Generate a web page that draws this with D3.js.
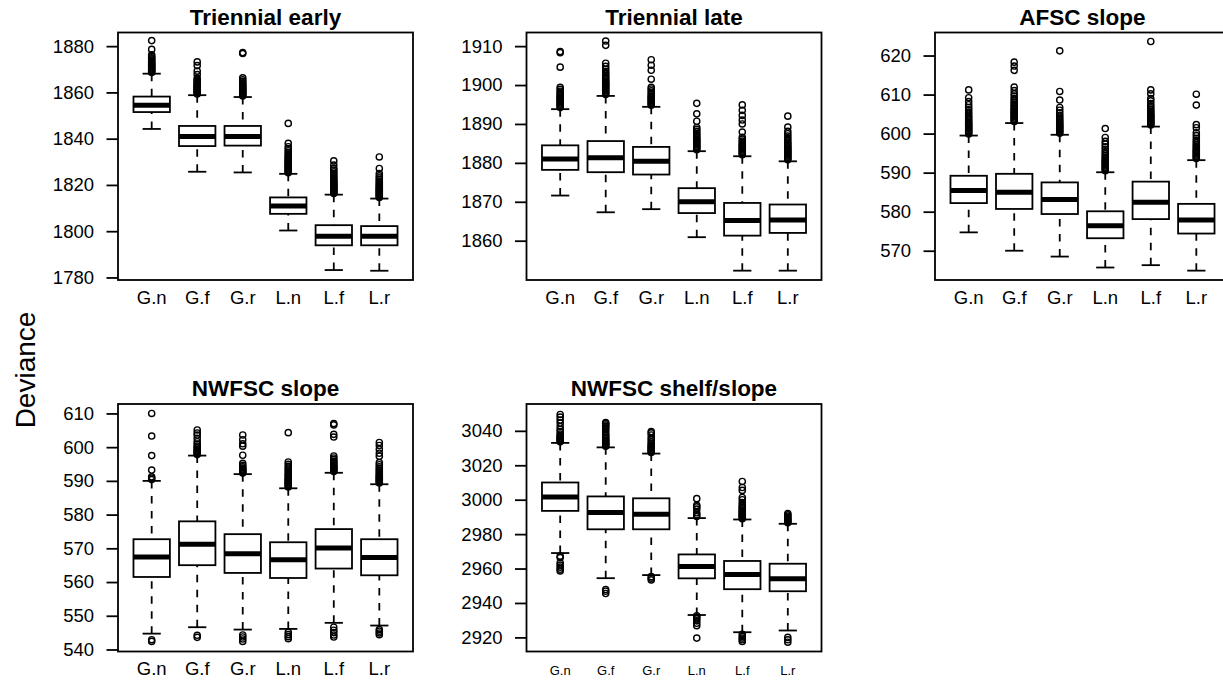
<!DOCTYPE html>
<html>
<head>
<meta charset="utf-8">
<script src="https://cdn.jsdelivr.net/npm/d3@7/dist/d3.min.js"></script>
<style>
  html, body { margin: 0; padding: 0; background: #fff; }
  svg { display: block; font-family: "Liberation Sans", Arial, sans-serif; }
</style>
</head>
<body>
<svg id="chart" width="1223" height="680"></svg>
<script>
// ---- data -------------------------------------------------------------
const groups = ["G.n", "G.f", "G.r", "L.n", "L.f", "L.r"];
const panelTitles = ["Triennial early", "Triennial late", "AFSC slope", "NWFSC slope", "NWFSC shelf/slope"];
const yAxisLabel = "Deviance";

const yTicks = [
  [1780, 1800, 1820, 1840, 1860, 1880],
  [1860, 1870, 1880, 1890, 1900, 1910],
  [570, 580, 590, 600, 610, 620],
  [540, 550, 560, 570, 580, 590, 600, 610],
  [2920, 2940, 2960, 2980, 3000, 3020, 3040]
];
const yLimits = [
  [1778.9, 1885.9],
  [1849.9, 1913.5],
  [562.5, 625.9],
  [539.4, 612.8],
  [2911.8, 3055.6]
];

// five-number summaries per group: [lower whisker, Q1, median, Q3, upper whisker]
const statsTriEarly = [
  [1844.2, 1851.5, 1854.5, 1858.2, 1868.1],
  [1825.7, 1836.8, 1840.9, 1845.5, 1858.8],
  [1825.4, 1837.0, 1840.9, 1845.5, 1858.0],
  [1800.3, 1807.5, 1810.9, 1814.6, 1824.8],
  [1783.2, 1793.9, 1797.8, 1802.6, 1815.8],
  [1782.9, 1793.9, 1797.8, 1802.2, 1814.1]
];
const statsTriLate = [
  [1871.6, 1878.2, 1881.0, 1884.5, 1893.8],
  [1867.3, 1877.6, 1881.3, 1885.6, 1897.2],
  [1868.1, 1877.0, 1880.4, 1884.1, 1894.4],
  [1860.9, 1867.1, 1870.0, 1873.5, 1883.0],
  [1852.3, 1861.3, 1865.2, 1869.7, 1881.7],
  [1852.3, 1862.0, 1865.3, 1869.3, 1880.4]
];
const statsAfsc = [
  [574.7, 582.2, 585.4, 589.2, 599.5],
  [570.0, 580.7, 585.0, 589.7, 602.7],
  [568.5, 579.4, 583.1, 587.5, 599.7],
  [565.7, 573.2, 576.4, 580.1, 590.1],
  [566.3, 578.1, 582.4, 587.7, 601.8],
  [564.9, 574.4, 577.9, 582.0, 593.2]
];
const statsNwSlope = [
  [544.7, 561.5, 567.4, 572.7, 590.0],
  [546.6, 565.0, 571.2, 578.0, 597.5],
  [545.9, 562.7, 568.4, 574.2, 592.0],
  [546.1, 561.2, 566.6, 571.8, 587.8],
  [547.9, 564.0, 570.1, 575.7, 592.4],
  [547.1, 562.0, 567.3, 572.7, 589.0]
];
const statsNwShelf = [
  [2969.0, 2993.5, 3001.5, 3010.0, 3033.0],
  [2954.4, 2982.8, 2992.5, 3001.9, 3030.4],
  [2956.2, 2982.8, 2991.5, 3000.8, 3026.8],
  [2933.0, 2954.3, 2961.2, 2968.2, 2989.3],
  [2923.0, 2948.0, 2956.5, 2964.4, 2988.5],
  [2924.0, 2946.8, 2954.0, 2962.8, 2986.0]
];

// points beyond the whiskers
const outTriEarly = [
  [1868.6,1869.0,1869.4,1869.8,1870.2,1870.6,1871.0,1871.4,1871.8,1872.2,1872.6,1873.0,1873.5,1874.0,1874.5,1875.0,1875.6,1876.3,1878.6,1882.4],
  [1859.3,1859.7,1860.1,1860.5,1860.9,1861.3,1861.7,1862.1,1862.5,1862.9,1863.3,1863.8,1864.3,1864.8,1865.4,1866.1,1867.7,1869.2,1871.6,1873.2],
  [1858.5,1858.9,1859.3,1859.7,1860.1,1860.5,1860.9,1861.3,1861.7,1862.1,1862.6,1863.1,1863.6,1864.2,1864.8,1865.5,1866.3,1876.8,1877.2],
  [1825.3,1825.7,1826.1,1826.5,1826.9,1827.3,1827.7,1828.1,1828.5,1828.9,1829.3,1829.7,1830.1,1830.6,1831.1,1831.6,1832.1,1832.7,1833.3,1834.0,1834.8,1835.6,1836.5,1838.0,1846.6],
  [1816.3,1816.7,1817.1,1817.5,1817.9,1818.3,1818.7,1819.1,1819.5,1819.9,1820.3,1820.7,1821.2,1821.7,1822.2,1822.8,1823.4,1824.1,1824.8,1825.6,1826.4,1827.2,1828.6,1830.4],
  [1814.6,1815.0,1815.4,1815.8,1816.2,1816.6,1817.0,1817.4,1817.8,1818.2,1818.6,1819.0,1819.5,1820.0,1820.5,1821.1,1821.7,1822.4,1823.1,1823.9,1824.9,1827.1,1832.1]
];
const outTriLate = [
  [1894.2,1894.5,1894.8,1895.1,1895.4,1895.7,1896.0,1896.3,1896.6,1896.9,1897.2,1897.6,1898.0,1898.4,1898.9,1899.4,1904.6,1908.3,1908.6],
  [1897.6,1897.9,1898.2,1898.5,1898.8,1899.1,1899.4,1899.7,1900.0,1900.3,1900.6,1900.9,1901.3,1901.7,1902.1,1902.5,1903.0,1903.5,1904.1,1904.8,1905.6,1910.2,1911.3],
  [1894.8,1895.1,1895.4,1895.7,1896.0,1896.3,1896.6,1896.9,1897.2,1897.6,1898.0,1898.5,1899.0,1899.4,1901.5,1903.8,1905.1,1906.5],
  [1883.4,1883.7,1884.0,1884.3,1884.6,1884.9,1885.2,1885.5,1885.8,1886.1,1886.4,1886.8,1887.2,1887.6,1888.1,1888.6,1889.1,1890.7,1892.6,1895.3],
  [1882.1,1882.4,1882.7,1883.0,1883.3,1883.6,1883.9,1884.2,1884.5,1884.8,1885.2,1885.6,1886.1,1886.6,1887.9,1890.0,1891.0,1892.2,1893.5,1894.9],
  [1880.8,1881.1,1881.4,1881.7,1882.0,1882.3,1882.6,1882.9,1883.2,1883.5,1883.8,1884.1,1884.5,1884.9,1885.3,1885.8,1886.3,1886.9,1887.5,1888.1,1889.2,1892.0]
];
const outAfsc = [
  [599.9,600.2,600.5,600.8,601.1,601.4,601.7,602.0,602.3,602.6,602.9,603.3,603.7,604.1,604.5,605.0,605.5,606.1,606.7,607.4,608.2,609.2,611.2],
  [603.1,603.4,603.7,604.0,604.3,604.6,604.9,605.2,605.5,605.8,606.1,606.4,606.8,607.2,607.6,608.0,608.5,609.0,609.6,610.2,611.0,611.9,616.2,617.3,618.3],
  [600.1,600.4,600.7,601.0,601.3,601.6,601.9,602.2,602.5,602.9,603.3,603.7,604.2,604.7,605.3,606.0,606.7,608.6,610.8,621.2],
  [590.5,590.8,591.1,591.4,591.7,592.0,592.3,592.6,592.9,593.2,593.6,594.0,594.4,594.9,595.4,596.0,596.6,597.3,598.0,599.0,601.3],
  [602.2,602.5,602.8,603.1,603.4,603.7,604.0,604.3,604.6,604.9,605.3,605.7,606.1,606.6,607.1,607.7,608.4,609.0,610.2,611.2,623.6],
  [593.6,593.9,594.2,594.5,594.8,595.1,595.4,595.7,596.0,596.4,596.8,597.2,597.7,598.2,598.8,599.5,600.2,601.5,602.3,607.3,610.1]
];
const outNwSlope = [
  [542.4,542.9,590.4,590.8,591.2,593.2,597.5,603.3,610.0],
  [543.6,544.2,597.8,598.1,598.4,598.7,599.0,599.4,599.8,600.3,600.9,601.6,602.6,603.6,604.2,605.1],
  [542.4,543.1,543.7,544.3,592.3,592.6,592.9,593.2,593.5,593.8,594.2,594.6,595.2,597.6,600.3,601.0,602.2,603.6],
  [543.2,543.8,544.4,545.1,588.2,588.5,588.8,589.1,589.4,589.7,590.0,590.3,590.6,591.0,591.4,591.8,592.2,592.7,593.2,593.7,594.3,594.9,595.6,604.3],
  [543.7,544.3,545.0,545.7,546.6,592.8,593.1,593.4,593.7,594.0,594.3,594.6,595.0,595.4,595.8,596.3,596.8,597.4,603.0,603.8,606.6,607.0],
  [544.4,544.9,545.4,545.9,589.4,589.7,590.0,590.3,590.6,590.9,591.2,591.5,591.9,592.3,592.7,593.2,593.7,594.2,594.8,595.4,597.3,598.2,599.4,600.5,601.4]
];
const outNwShelf = [
  [2958.6,2959.6,2960.8,2962.0,2963.4,2966.4,2967.2,3033.6,3034.2,3034.8,3035.4,3036.0,3036.6,3037.3,3038.2,3039.6,3040.8,3042.5,3044.5,3046.3,3048.0,3049.5],
  [2945.5,2946.8,2947.8,3031.0,3031.6,3032.2,3032.8,3033.4,3034.0,3034.7,3035.4,3036.2,3037.1,3038.0,3039.4,3040.6,3041.8,3042.6,3043.4,3044.2,3044.8],
  [2953.4,2954.4,2955.3,3027.4,3028.0,3028.6,3029.2,3029.8,3030.4,3031.0,3031.8,3032.7,3033.6,3035.0,3036.0,3037.6,3038.8,3039.6],
  [2919.6,2926.8,2928.2,2929.6,2930.8,2931.8,2932.6,2990.2,2991.2,2992.4,2994.5,2995.8,2996.7,3000.6],
  [2917.6,2918.6,2919.6,2920.6,2921.8,2989.0,2989.6,2990.2,2990.8,2991.4,2992.0,2992.6,2993.2,2993.9,2994.6,2995.4,2996.2,2997.2,2998.4,3000.0,3001.3,3005.4,3007.1,3010.6],
  [2917.2,2918.6,2920.0,2986.6,2987.2,2987.8,2988.4,2989.0,2989.6,2990.4,2991.2,2992.0]
];

const panelStats = [statsTriEarly, statsTriLate, statsAfsc, statsNwSlope, statsNwShelf];
const panelOutliers = [outTriEarly, outTriLate, outAfsc, outNwSlope, outNwShelf];

// ---- layout -----------------------------------------------------------
const colLeft = [118, 526.5, 935];
const rowTop = [32.5, 404];
const plotW = 295, plotH = 247.5;
const FONT = '"Liberation Sans", Arial, sans-serif';

const svg = d3.select("#chart");
svg.append("rect").attr("width", 1223).attr("height", 680).attr("fill", "#fff");

panelTitles.forEach((title, i) => {
  const left = colLeft[i % 3];
  const top = rowTop[Math.floor(i / 3)];
  const g = svg.append("g");

  // boxes sit at 1..6 on an axis running 0.26..6.74
  const x = d3.scalePoint().domain(groups).range([left, left + plotW]).padding(0.74);
  const step = x.step();
  const boxW = 0.8 * step;
  const capW = 0.5 * boxW;
  const y = d3.scaleLinear().domain(yLimits[i]).range([top + plotH, top]);

  // y axis
  const yAxis = d3.axisLeft(y).tickValues(yTicks[i]).tickSize(11.5).tickPadding(12.5).tickFormat(d3.format("d"));
  const ax = g.append("g").attr("transform", `translate(${left},0)`).call(yAxis);
  ax.select(".domain").remove();
  ax.selectAll(".tick line").attr("stroke", "#000").attr("stroke-width", 1.8);
  ax.selectAll(".tick text").attr("fill", "#000").style("font-family", FONT).style("font-size", "18.5px");

  // group labels below the frame
  const small = i === 4;
  g.selectAll("text.grp").data(groups).join("text")
    .attr("class", "grp")
    .attr("x", d => x(d))
    .attr("y", top + plotH + (small ? 23 : 23.5))
    .attr("text-anchor", "middle")
    .style("font-family", FONT)
    .style("font-size", small ? "13px" : "18.5px")
    .attr("fill", "#000")
    .text(d => d);

  const stats = panelStats[i];
  const outs = panelOutliers[i];

  groups.forEach((grp, k) => {
    const [lo, q1, med, q3, hi] = stats[k];
    const cx = x(grp);
    const bg = g.append("g");
    // whiskers, drawn from the whisker end toward the box
    [[lo, q1], [hi, q3]].forEach(([a, b]) => {
      bg.append("line")
        .attr("x1", cx).attr("x2", cx)
        .attr("y1", y(a)).attr("y2", y(b))
        .attr("stroke", "#000").attr("stroke-width", 1.8)
        .attr("stroke-dasharray", "7.5,7.5");
      bg.append("line")
        .attr("x1", cx - capW / 2).attr("x2", cx + capW / 2)
        .attr("y1", y(a)).attr("y2", y(a))
        .attr("stroke", "#000").attr("stroke-width", 1.8);
    });
    // box
    bg.append("rect")
      .attr("x", cx - boxW / 2).attr("width", boxW)
      .attr("y", y(q3)).attr("height", y(q1) - y(q3))
      .attr("fill", "#fff").attr("stroke", "#000").attr("stroke-width", 1.8);
    // median
    bg.append("line")
      .attr("x1", cx - boxW / 2).attr("x2", cx + boxW / 2)
      .attr("y1", y(med)).attr("y2", y(med))
      .attr("stroke", "#000").attr("stroke-width", 5);
    // outliers
    bg.selectAll("circle").data(outs[k]).join("circle")
      .attr("cx", cx).attr("cy", d => y(d)).attr("r", 3.1)
      .attr("fill", "none").attr("stroke", "#000").attr("stroke-width", 1.4);
  });

  // plot frame
  g.append("rect")
    .attr("x", left).attr("y", top).attr("width", plotW).attr("height", plotH)
    .attr("fill", "none").attr("stroke", "#000").attr("stroke-width", 1.8);

  // panel title
  g.append("text")
    .attr("x", left + plotW / 2).attr("y", top - 8)
    .attr("text-anchor", "middle")
    .style("font-family", FONT).style("font-weight", "bold").style("font-size", "22.5px")
    .attr("fill", "#000")
    .text(title);
});

// shared y-axis label
svg.append("text")
  .attr("transform", "translate(35,370) rotate(-90)")
  .attr("text-anchor", "middle")
  .style("font-family", FONT).style("font-size", "28px")
  .attr("fill", "#000")
  .text(yAxisLabel);
</script>
</body>
</html>
